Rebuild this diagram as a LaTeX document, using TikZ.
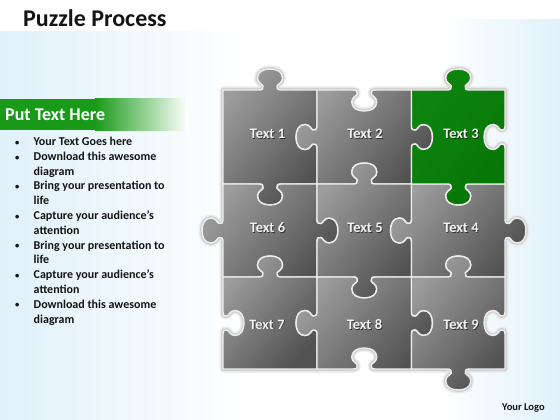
\documentclass[tikz,border=0pt]{standalone}
\usepackage{fontspec}
\setmainfont{Carlito}
\definecolor{bgblue}{RGB}{224,241,250}
\definecolor{bannergreen}{RGB}{25,155,25}
\definecolor{piecegreen}{RGB}{6,118,6}
\definecolor{piecegreenlight}{RGB}{14,132,14}
\definecolor{graylight}{RGB}{156,156,156}
\definecolor{graydark}{RGB}{82,82,82}
\definecolor{edgewhite}{RGB}{238,238,238}
\definecolor{labelwhite}{RGB}{243,243,243}
\definecolor{textdark}{RGB}{20,20,20}

% ---- puzzle piece path builder ----
\newcommand\K[2]{({(\mx)+(#1)*(\ux)+(#2)*\nx},{(\my)+(#1)*(\uy)+(#2)*\ny})}
\def\knobpath{ -- \K{-11}{0} .. controls \K{-7.5}{0} and \K{-6.5}{1.5} .. \K{-7}{4}
 .. controls \K{-7.5}{6} and \K{-12.5}{7} .. \K{-12.5}{12}
 .. controls \K{-12.5}{18} and \K{-7}{21} .. \K{0}{21}
 .. controls \K{7}{21} and \K{12.5}{18} .. \K{12.5}{12}
 .. controls \K{12.5}{7} and \K{7.5}{6} .. \K{7}{4}
 .. controls \K{6.5}{1.5} and \K{7.5}{0} .. \K{11}{0}}
\newcommand\edgek[7]{%
  \def\mx{#1}\def\my{#2}\def\ux{#3}\def\uy{#4}%
  \def\nx{(#7)*(#5)}\def\ny{(#7)*(#6)}%
  \ifnum#7=0\else\xdef\acc{\acc\knobpath}\fi}
\newcommand\piece[9]{%
  \gdef\acc{(#2,#3)}%
  \edgek{(#2+#4)/2}{#3}{1}{0}{0}{-1}{#6}%
  \xdef\acc{\acc -- (#4,#3)}%
  \edgek{#4}{(#3+#5)/2}{0}{1}{1}{0}{#7}%
  \xdef\acc{\acc -- (#4,#5)}%
  \edgek{(#2+#4)/2}{#5}{-1}{0}{0}{1}{#8}%
  \xdef\acc{\acc -- (#2,#5)}%
  \edgek{#2}{(#3+#5)/2}{0}{-1}{-1}{0}{#9}%
  \xdef\acc{\acc -- cycle}%
  \global\expandafter\let\csname pc#1\endcsname\acc}

\newcommand\bul{\makebox[18.5pt][l]{\raisebox{0.3pt}{\fontsize{8.5}{8.5}\selectfont •}}}

\tikzset{
  glowA/.style={draw=black!8, line width=7pt, line join=round},
  glowB/.style={draw=black!18, line width=4pt, line join=round},
  graypiece/.style={draw=edgewhite, line width=1.4pt, line join=round,
    top color=graylight, bottom color=graydark, shading angle=50},
  greenpiece/.style={draw=edgewhite, line width=1.4pt, line join=round,
    top color=piecegreenlight, bottom color=piecegreen, shading angle=50},
  lbl/.style={font=\bfseries\fontsize{14.5}{14.5}\selectfont, text=labelwhite, inner sep=0pt},
  lblshadow/.style={font=\bfseries\fontsize{14.5}{14.5}\selectfont, text=black, opacity=0.6, inner sep=0pt},
}

\begin{document}
\begin{tikzpicture}[x=1pt,y=-1pt]
\useasboundingbox (0,0) rectangle (560,420);
% background
\fill[white] (0,0) rectangle (560,420);
\shade[left color=bgblue, right color=white] (0,32) rectangle (250,420);
\shade[left color=white, right color=bgblue] (440,20) rectangle (560,420);

% title
\node[anchor=base west, inner sep=0pt, text=textdark,
      font=\bfseries\fontsize{24}{24}\selectfont] (title) at (23,27) {Puzzle Process};

% banner
\fill[bannergreen] (0,99) rectangle (95.5,130);
\shade[left color=bannergreen, right color=white] (95,99) rectangle (188,130);
\node[anchor=base west, inner sep=0pt, text=white,
      font=\bfseries\fontsize{18}{18}\selectfont] (banner) at (5,120.5) {Put Text Here};

% bullet list
\node[anchor=base west, inner sep=0pt, text=textdark,
      font=\bfseries\fontsize{12}{14.8}\selectfont] (list) at (15,145.5) {%
  \begin{tabular}[t]{@{}l@{}l@{}}
  \bul & Your Text Goes here\\
  \bul & Download this awesome\\
   & diagram\\
  \bul & Bring your presentation to\\
   & life\\
  \bul & Capture your audience’s\\
   & attention\\
  \bul & Bring your presentation to\\
   & life\\
  \bul & Capture your audience’s\\
   & attention\\
  \bul & Download this awesome\\
   & diagram
  \end{tabular}};

% pieces: name x0 y0 x1 y1 top right bottom left
\piece{A}{223}{90}{317}{184}{1}{-1}{1}{0}
\piece{B}{317}{90}{411.5}{184}{-1}{1}{-1}{1}
\piece{C}{411.5}{90}{505}{184}{1}{-1}{1}{-1}
\piece{D}{223}{184}{317}{277}{-1}{1}{-1}{1}
\piece{E}{317}{184}{411.5}{277}{1}{-1}{1}{-1}
\piece{F}{411.5}{184}{505}{277}{-1}{1}{-1}{1}
\piece{G}{223}{277}{317}{369}{1}{-1}{0}{-1}
\piece{H}{317}{277}{411.5}{369}{-1}{1}{-1}{1}
\piece{I}{411.5}{277}{505}{369}{1}{-1}{1}{-1}

% glow
\path[glowA] \pcA; \path[glowA] \pcB; \path[glowA] \pcC;
\path[glowA] \pcD; \path[glowA] \pcE; \path[glowA] \pcF;
\path[glowA] \pcG; \path[glowA] \pcH; \path[glowA] \pcI;
\path[glowB] \pcA; \path[glowB] \pcB; \path[glowB] \pcC;
\path[glowB] \pcD; \path[glowB] \pcE; \path[glowB] \pcF;
\path[glowB] \pcG; \path[glowB] \pcH; \path[glowB] \pcI;

% fills
\path[graypiece] \pcA;
\path[graypiece] \pcB;
\path[graypiece] \pcD;
\path[graypiece] \pcE;
\path[graypiece] \pcF;
\path[graypiece] \pcG;
\path[graypiece] \pcH;
\path[graypiece] \pcI;
\path[greenpiece] \pcC;

% labels
\foreach \n/\t/\x/\y in {1/Text 1/267.5/134, 2/Text 2/365/134, 3/Text 3/461/134,
                         6/Text 6/267.5/228, 5/Text 5/365/228, 4/Text 4/461/228,
                         7/Text 7/267/324.5, 8/Text 8/364.5/324.5, 9/Text 9/461/324.5}{
  \node[lblshadow] (s\n) at (\x+0.8,\y+0.8) {\t};
  \node[lbl] (t\n) at (\x,\y) {\t};
}

% logo
\node[anchor=base west, inner sep=0pt, text=textdark,
      font=\bfseries\fontsize{10.5}{10.5}\selectfont] (logo) at (502,410.5) {Your Logo};
\end{tikzpicture}
\end{document}
